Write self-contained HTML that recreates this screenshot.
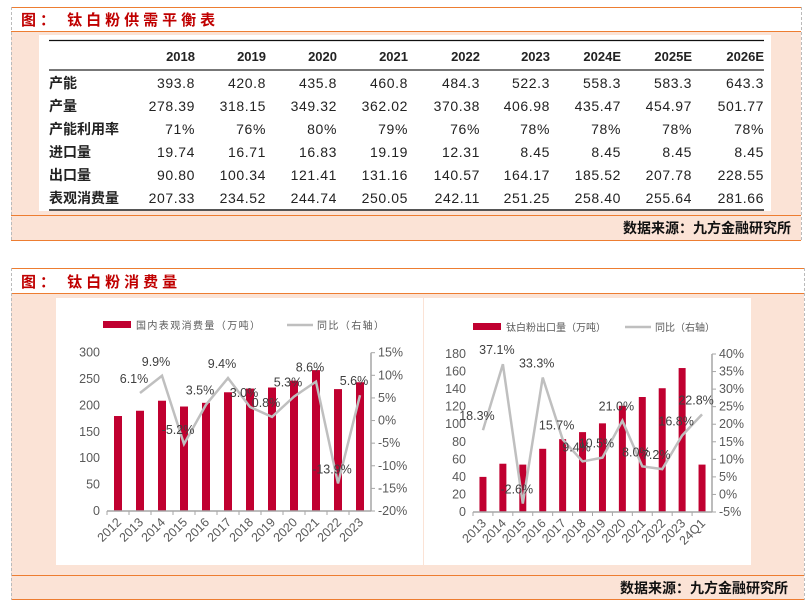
<!DOCTYPE html>
<html><head><meta charset="utf-8"><style>
body{margin:0;background:#fff;}
svg{display:block;font-family:"Liberation Sans","Noto Sans CJK SC",sans-serif;}
.t{font-size:14px;fill:#222;}
.h{font-size:13px;font-weight:bold;fill:#222;}
.ax{font-size:12.5px;fill:#595959;}
.dl{font-size:12.5px;fill:#404040;}
</style></head><body>
<svg id="page" width="810" height="601" viewBox="0 0 810 601">
<g>
<rect x="11" y="31" width="790" height="209" fill="#fbe3d6"/>
<line x1="11" y1="7.5" x2="801" y2="7.5" stroke="#ed7d31"/>
<line x1="11" y1="31.5" x2="801" y2="31.5" stroke="#ed7d31"/>
<line x1="11" y1="215.5" x2="801" y2="215.5" stroke="#ed7d31"/>
<line x1="11" y1="240.5" x2="801" y2="240.5" stroke="#ed7d31"/>
<line x1="11.5" y1="7" x2="11.5" y2="240" stroke="#bbb" stroke-dasharray="3,2"/>
<line x1="801.5" y1="7" x2="801.5" y2="240" stroke="#bbb" stroke-dasharray="3,2"/>
<text x="21" y="25" font-size="15" font-weight="bold" fill="#c00000" letter-spacing="4">图： 钛白粉供需平衡表</text>
<rect x="39" y="35" width="732" height="176" fill="#fff"/>
<line x1="49" y1="40.5" x2="764" y2="40.5" stroke="#111" stroke-width="1.2"/>
<line x1="49" y1="70" x2="764" y2="70" stroke="#777" stroke-width="2"/>
<line x1="49" y1="210" x2="764" y2="210" stroke="#555" stroke-width="2"/>
<g id="tbl"></g>
<text x="791" y="233" text-anchor="end" font-size="14" font-weight="bold" fill="#111">数据来源：九方金融研究所</text>
</g>
<g>
<rect x="11" y="293" width="793" height="306" fill="#fbe3d6"/>
<line x1="11" y1="268.5" x2="804" y2="268.5" stroke="#ed7d31"/>
<line x1="11" y1="293.5" x2="804" y2="293.5" stroke="#ed7d31"/>
<line x1="11" y1="575.5" x2="804" y2="575.5" stroke="#ed7d31"/>
<line x1="11" y1="599.5" x2="804" y2="599.5" stroke="#ed7d31"/>
<line x1="11.5" y1="268" x2="11.5" y2="600" stroke="#bbb" stroke-dasharray="3,2"/>
<line x1="804.5" y1="268" x2="804.5" y2="600" stroke="#bbb" stroke-dasharray="3,2"/>
<text x="21" y="287" font-size="15" font-weight="bold" fill="#c00000" letter-spacing="4">图： 钛白粉消费量</text>
<rect x="56" y="298" width="367" height="267" fill="#fff"/>
<rect x="424" y="298" width="327" height="267" fill="#fff"/>
<text x="788" y="593" text-anchor="end" font-size="14" font-weight="bold" fill="#111">数据来源：九方金融研究所</text>
</g>
<g id="c1"></g>
<g id="c2"></g>
</svg>
<script>
const tblCols = ["2018","2019","2020","2021","2022","2023","2024E","2025E","2026E"];
const tblRowLabels = ["产能","产量","产能利用率","进口量","出口量","表观消费量"];
const tblCapacity = ["393.8","420.8","435.8","460.8","484.3","522.3","558.3","583.3","643.3"];
const tblOutput = ["278.39","318.15","349.32","362.02","370.38","406.98","435.47","454.97","501.77"];
const tblUtil = ["71%","76%","80%","79%","76%","78%","78%","78%","78%"];
const tblImport = ["19.74","16.71","16.83","19.19","12.31","8.45","8.45","8.45","8.45"];
const tblExport = ["90.80","100.34","121.41","131.16","140.57","164.17","185.52","207.78","228.55"];
const tblConsume = ["207.33","234.52","244.74","250.05","242.11","251.25","258.40","255.64","281.66"];

const c1Cats = ["2012","2013","2014","2015","2016","2017","2018","2019","2020","2021","2022","2023"];
const c1Vals = [180,190,209,198,205,225,232,234,247,267,231,244];
const c1Yoy = [null,6.1,9.9,-5.2,3.5,9.4,3.0,0.8,5.3,8.6,-13.9,5.6];
const c1LTicks = [0,50,100,150,200,250,300];
const c1RTicks = [-20,-15,-10,-5,0,5,10,15];

const c2Cats = ["2013","2014","2015","2016","2017","2018","2019","2020","2021","2022","2023","24Q1"];
const c2Vals = [40,55,54,72,83,91,101,121,131,141,164,54];
const c2Yoy = [18.3,37.1,-2.6,33.3,15.7,9.4,10.5,21.0,8.0,7.2,16.8,22.8];
const c2LTicks = [0,20,40,60,80,100,120,140,160,180];
const c2RTicks = [-5,0,5,10,15,20,25,30,35,40];

const NS="http://www.w3.org/2000/svg";
function mk(tag,attrs,parent,txt){const e=document.createElementNS(NS,tag);for(const k in attrs)e.setAttribute(k,attrs[k]);if(txt!=null)e.textContent=txt;parent.appendChild(e);return e;}

const tbl=document.getElementById('tbl');
const colRight=[195,266,337,408,480,550,621,692,764];
const rowY=[88,111,134,157,180,203];
const rowsData=[tblCapacity,tblOutput,tblUtil,tblImport,tblExport,tblConsume];
tblCols.forEach((c,j)=>{
  const t=mk('text',{x:colRight[j],y:61,'text-anchor':'end',class:'h'},tbl,c);
  
  
});
tblRowLabels.forEach((l,i)=>{
  const t=mk('text',{x:49,y:rowY[i],class:'h',style:'font-size:14px'},tbl,l);
  
  
  rowsData[i].forEach((v,j)=>{
    const c=mk('text',{x:colRight[j],y:rowY[i],'text-anchor':'end',class:'t','letter-spacing':'0.6'},tbl,v);
    
    
  });
});

function chart(g,o){
  const {cats,vals,yoy,lt,rt,x0,x1,yb,yt,lmax,rmin,rmax,bw,legBar,legLine,legX,legLineX,legY,ls}=o;
  const slot=(x1-x0)/cats.length;
  const X=i=>x0+slot*(i+0.5);
  const Y=v=>yb-v/lmax*(yb-yt);
  const YR=p=>yb-(p-rmin)/(rmax-rmin)*(yb-yt);
  const lr=mk('rect',{x:legX,y:legY-4,width:28,height:7,fill:'#c00030'},g);
  
  
  const lt1=mk('text',{x:legX+33,y:legY+4,'font-size':'10',fill:'#595959','letter-spacing':ls},g,legBar);
  
  
  const ll=mk('line',{x1:legLineX,y1:legY,x2:legLineX+26,y2:legY,stroke:'#bfbfbf','stroke-width':2.5},g);
  
  
  const lt2=mk('text',{x:legLineX+30,y:legY+4,'font-size':'10',fill:'#595959','letter-spacing':ls},g,legLine);
  
  
  lt.forEach(v=>{
    const t=mk('text',{x:x0-7,y:Y(v)+4,'text-anchor':'end',class:'ax'},g,String(v));
    
    
  });
  rt.forEach(p=>{
    mk('line',{x1:x1,x2:x1+4,y1:YR(p),y2:YR(p),stroke:'#a6a6a6'},g);
    const t=mk('text',{x:x1+7,y:YR(p)+4,class:'ax'},g,p+'%');
    
    
  });
  const ra=mk('line',{x1:x1,x2:x1,y1:yt,y2:yb,stroke:'#a6a6a6','stroke-width':1.5},g);
  
  
  vals.forEach((v,i)=>{
    const b=mk('rect',{x:X(i)-bw/2,y:Y(v),width:bw,height:yb-Y(v),fill:'#c00030'},g);
    
    
  });
  const xa=mk('line',{x1:x0,x2:x1,y1:yb,y2:yb,stroke:'#a6a6a6','stroke-width':1.5},g);
  
  
  cats.forEach((c,i)=>{
    mk('line',{x1:x0+slot*i,x2:x0+slot*i,y1:yb,y2:yb+4,stroke:'#a6a6a6'},g);
    const t=mk('text',{x:X(i)+4,y:yb+12,'text-anchor':'end',class:'ax',transform:`rotate(-45 ${X(i)+4} ${yb+12})`},g,c);
    
    
  });
  let d='';
  yoy.forEach((p,i)=>{if(p==null)return;d+=(d?'L':'M')+X(i)+' '+YR(p);});
  const ln=mk('path',{d:d,fill:'none',stroke:'#bfbfbf','stroke-width':2.5},g);
  
  
  yoy.forEach((p,i)=>{
    if(p==null)return;
    const t=mk('text',{x:X(i)-6,y:YR(p)-10,'text-anchor':'middle',class:'dl'},g,p.toFixed(1)+'%');
    
    
  });
}
chart(document.getElementById('c1'),{cats:c1Cats,vals:c1Vals,yoy:c1Yoy,lt:c1LTicks,rt:c1RTicks,x0:107,x1:371,yb:511,yt:352.7,lmax:300,rmin:-20,rmax:15,bw:8,legBar:'国内表观消费量（万吨）',legLine:'同比（右轴）',legX:103,legLineX:287,legY:325,ls:'1.4'});
chart(document.getElementById('c2'),{cats:c2Cats,vals:c2Vals,yoy:c2Yoy,lt:c2LTicks,rt:c2RTicks,x0:473,x1:712,yb:512,yt:354,lmax:180,rmin:-5,rmax:40,bw:7,legBar:'钛白粉出口量（万吨）',legLine:'同比（右轴）',legX:473,legLineX:625,legY:327,ls:'0'});
</script>
</body></html>
